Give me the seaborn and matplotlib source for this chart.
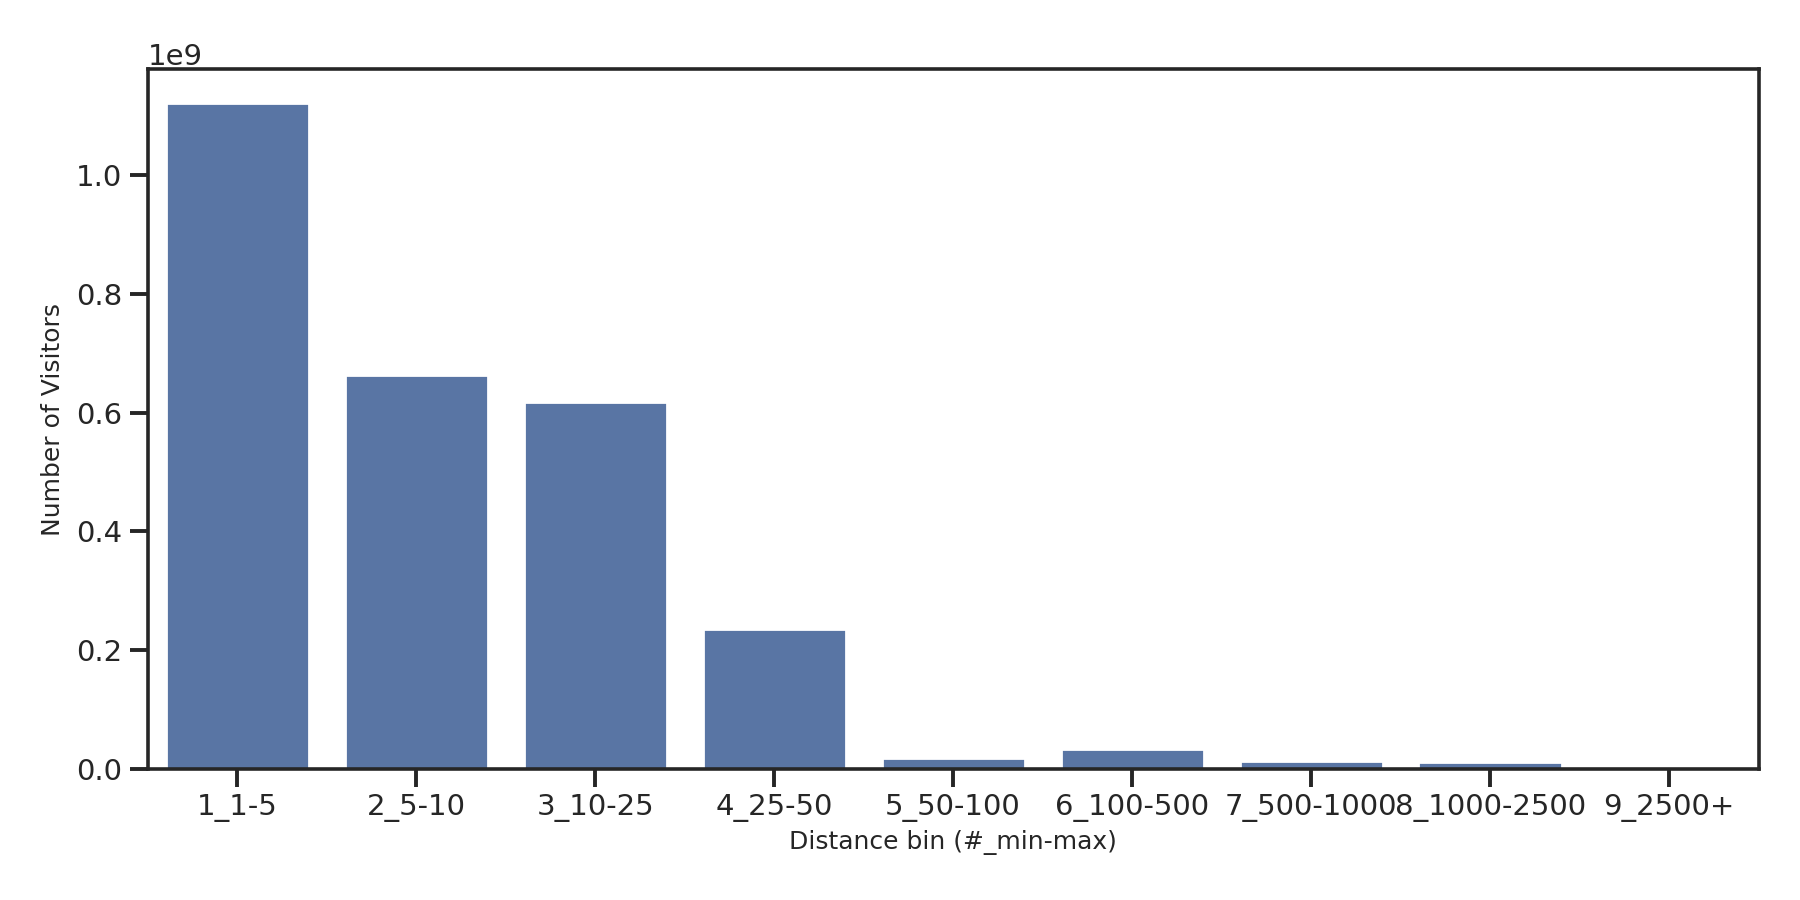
import matplotlib
matplotlib.use('agg')
import matplotlib.pyplot as plt
import pandas as pd
import seaborn as sns

# Visitors per distance bin
distance_bins = ["1_1-5", "2_5-10", "3_10-25", "4_25-50", "5_50-100",
                 "6_100-500", "7_500-1000", "8_1000-2500", "9_2500+"]
visitors = [1.122e9, 0.664e9, 0.618e9, 0.235e9, 0.0183e9,
            0.0335e9, 0.0132e9, 0.0115e9, 0.0008e9]

df = pd.DataFrame({"distance_bin": distance_bins, "visitors": visitors})

sns.set_theme(context="poster", style="ticks")

fig, ax = plt.subplots(figsize=(18, 9), dpi=100)
sns.barplot(data=df, x="distance_bin", y="visitors", color="#4c72b0", ax=ax)
ax.set_xlabel("Distance bin (#_min-max)", fontsize=18, labelpad=5.7)
ax.set_ylabel("Number of Visitors", fontsize=18, labelpad=8)
ax.tick_params(axis="both", labelsize=21, length=13.3, width=2.8, pad=5)
ax.yaxis.get_offset_text().set_fontsize(21)
for spine in ax.spines.values():
    spine.set_linewidth(2.6)

plt.subplots_adjust(left=0.082, right=0.977, top=0.923, bottom=0.1456)
plt.savefig("out.png", dpi=100)
